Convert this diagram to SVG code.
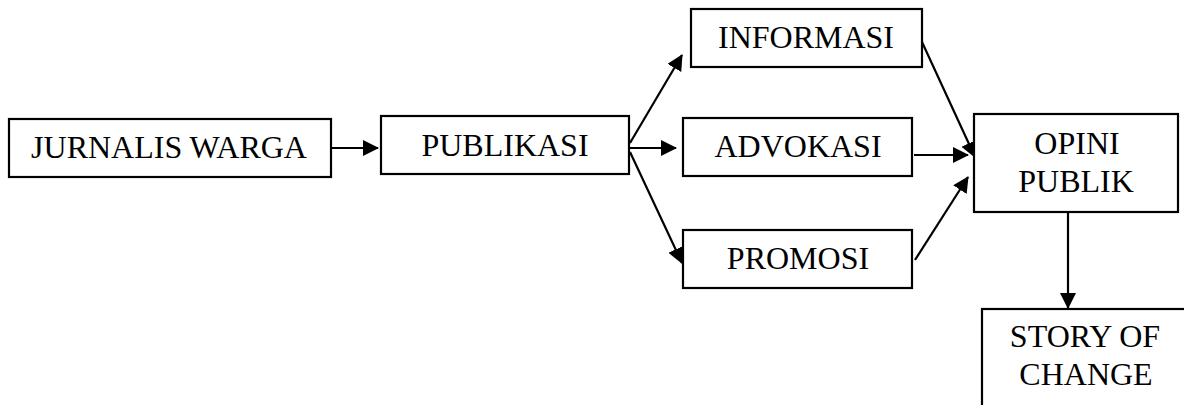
<svg xmlns="http://www.w3.org/2000/svg" width="1184" height="405" viewBox="0 0 1184 405">
<defs>
<style>
.box{fill:#fff;stroke:#000;stroke-width:2.2}
.t{font-family:"Liberation Serif","Times New Roman",serif;font-size:32px;fill:#000;text-anchor:middle}
.c{stroke:#000;stroke-width:2.2;fill:none;marker-end:url(#ah)}
</style>
<marker id="ah" markerUnits="userSpaceOnUse" markerWidth="17" markerHeight="16" refX="15" refY="8" orient="auto" viewBox="0 0 17 16">
<path d="M0,0 L16,8 L0,16 z" fill="#000"/>
</marker>
</defs>
<rect width="1184" height="405" fill="#fff"/>
<g id="connectors">
<line class="c" x1="331" y1="148" x2="378" y2="148"/>
<line class="c" x1="630" y1="143" x2="682" y2="55"/>
<line class="c" x1="630" y1="148" x2="676" y2="148"/>
<line class="c" x1="630" y1="152" x2="682" y2="263"/>
<line class="c" x1="922" y1="42" x2="975" y2="157"/>
<line class="c" x1="914" y1="155" x2="968" y2="155"/>
<line class="c" x1="915" y1="260" x2="968" y2="177"/>
<line class="c" x1="1068" y1="212" x2="1068" y2="308"/>
</g>
<g id="jurnalis-warga">
<rect class="box" x="9" y="119" width="322" height="58"/>
<text class="t" x="169" y="158">JURNALIS WARGA</text>
</g>
<g id="publikasi">
<rect class="box" x="381" y="116" width="248" height="58"/>
<text class="t" x="505" y="156">PUBLIKASI</text>
</g>
<g id="informasi">
<rect class="box" x="691" y="9" width="231" height="58"/>
<text class="t" x="806" y="48">INFORMASI</text>
</g>
<g id="advokasi">
<rect class="box" x="683" y="118" width="229" height="58"/>
<text class="t" x="798" y="157">ADVOKASI</text>
</g>
<g id="promosi">
<rect class="box" x="683" y="230" width="229" height="58"/>
<text class="t" x="798" y="269">PROMOSI</text>
</g>
<g id="opini-publik">
<rect class="box" x="974" y="114" width="204" height="98"/>
<text class="t" x="1077" y="154">OPINI</text>
<text class="t" x="1076" y="192">PUBLIK</text>
</g>
<g id="story-of-change">
<rect class="box" x="982" y="309" width="230" height="120"/>
<text class="t" x="1085" y="347">STORY OF</text>
<text class="t" x="1086" y="385">CHANGE</text>
</g>
</svg>
